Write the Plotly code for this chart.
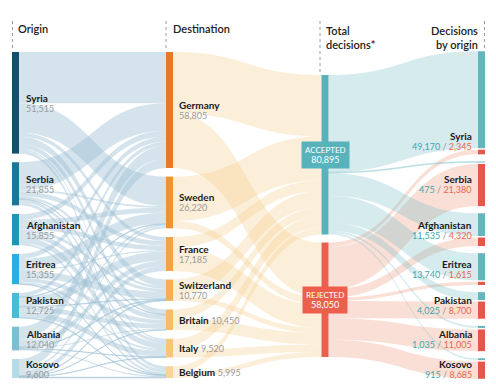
import plotly.graph_objects as go

# ---------------- data ----------------
origins = ["Syria", "Serbia", "Afghanistan", "Eritrea", "Pakistan", "Albania", "Kosovo"]
origin_totals = [51515, 21855, 15855, 15355, 12725, 12040, 9600]

destinations = ["Germany", "Sweden", "France", "Switzerland", "Britain", "Italy", "Belgium"]
dest_totals = [58805, 26220, 17185, 10770, 10450, 9520, 5995]

# estimated origin -> destination flows (rows: origins, cols: destinations)
flows = [
    [26000, 15000, 2000, 3500, 2500, 800, 1715],   # Syria
    [14000, 800, 2500, 1200, 300, 1500, 1555],     # Serbia
    [3000, 2500, 2200, 1500, 2500, 3000, 1155],    # Afghanistan
    [2500, 5500, 700, 3500, 2000, 1000, 155],      # Eritrea
    [2000, 300, 4500, 300, 2500, 2800, 325],       # Pakistan
    [6500, 1000, 2750, 400, 550, 200, 640],        # Albania
    [4805, 1120, 2535, 370, 100, 220, 450],        # Kosovo
]

# estimated destination -> decision flows
dest_accepted = [31000, 22500, 5500, 8200, 4500, 5700, 3495]
dest_rejected = [27805, 3720, 11685, 2570, 5950, 3820, 2500]

total_labels = ["ACCEPTED", "REJECTED"]
total_values = [80895, 58050]

# decisions by origin
origin_accepted = [49170, 475, 11535, 13740, 4025, 1035, 915]
origin_rejected = [2345, 21380, 4320, 1615, 8700, 11005, 8685]

columns_titles = ["Origin", "Destination", "Total<br>decisions*", "Decisions<br>by origin"]

# ---------------- layout geometry ----------------
W, H = 496, 386
MT, MB, ML, MR = 52, 8, 0, 0
PW, PH = W - ML - MR, H - MT - MB
PAD = 4
THICK = 7
total = sum(origin_totals)
ky = (PH - 13 * PAD) / total  # same scale plotly's sankey derives (14-node column)

n = len(origins)

def col_tops(values, gap):
    tops, y = [], 0.0
    for v in values:
        tops.append(y)
        y += v * ky + gap
    return tops

gap_o = (PH - total * ky) / (n - 1)
o_tops = col_tops(origin_totals, gap_o)
d_tops = col_tops(dest_totals, gap_o)
acc_top = 23
t_tops = [acc_top, acc_top + total_values[0] * ky + 8]

X_O, X_D, X_T, X_L = 15.5, 169.5, 325.0, 481.5

node_x, node_y, node_color = [], [], []
o_cols = ["#12506d", "#1c7699", "#2194b8", "#2cafe0", "#4cb9d6", "#7cc0d0", "#b5dbe7"]
d_cols = ["#e8782a", "#ee9331", "#f2a346", "#f4b057", "#f6bc68", "#f7c67c", "#f9d49a"]
for i in range(n):
    node_x.append(X_O / PW)
    node_y.append((o_tops[i] + origin_totals[i] * ky / 2) / PH)
    node_color.append(o_cols[i])
for j in range(n):
    node_x.append(X_D / PW)
    node_y.append((d_tops[j] + dest_totals[j] * ky / 2) / PH)
    node_color.append(d_cols[j])
for k in range(2):
    node_x.append(X_T / PW)
    node_y.append((t_tops[k] + total_values[k] * ky / 2) / PH)
    node_color.append(["#58b2bc", "#ec5f4c"][k])
for i in range(n):
    top_a = o_tops[i] - 0.75
    top_r = top_a + origin_accepted[i] * ky + 1.5
    node_x.append(X_L / PW)
    node_y.append((top_a + origin_accepted[i] * ky / 2) / PH)
    node_color.append("#66b5bd")
    node_x.append(X_L / PW)
    node_y.append((top_r + origin_rejected[i] * ky / 2) / PH)
    node_color.append("#e4584a")

src, tgt, val, lcol = [], [], [], []
for i in range(n):
    for j in range(n):
        src.append(i); tgt.append(n + j); val.append(flows[i][j])
        lcol.append("rgba(160,192,212,0.45)")
for j in range(n):
    src.append(n + j); tgt.append(2 * n); val.append(dest_accepted[j])
    lcol.append("rgba(245,195,120,0.27)")
    src.append(n + j); tgt.append(2 * n + 1); val.append(dest_rejected[j])
    lcol.append("rgba(245,195,120,0.27)")
for i in range(n):
    src.append(2 * n); tgt.append(2 * n + 2 + 2 * i); val.append(origin_accepted[i])
    lcol.append("rgba(120,190,200,0.30)")
    src.append(2 * n + 1); tgt.append(2 * n + 3 + 2 * i); val.append(origin_rejected[i])
    lcol.append("rgba(240,150,120,0.30)")

fig = go.Figure(go.Sankey(
    arrangement="fixed",
    node=dict(label=[""] * len(node_x), x=node_x, y=node_y, color=node_color,
              pad=PAD, thickness=THICK, line=dict(width=0)),
    link=dict(source=src, target=tgt, value=val, color=lcol, line=dict(width=0)),
    hoverinfo="none",
))

FONT = "Lato, 'Open Sans', sans-serif"

def px(x):
    return x / W

def py(y):
    return 1 - (y - MT) / PH

ann = []
def add(x, y, text, size=10, color="#1a1a1a", xanchor="left", weight="normal", **kw):
    ann.append(dict(x=px(x), y=py(y), xref="paper", yref="paper", text=text,
                    showarrow=False, xanchor=xanchor, yanchor="middle",
                    font=dict(family=FONT, size=size, color=color, weight=weight), **kw))

# origin labels
for i in range(n):
    c = MT + o_tops[i] + origin_totals[i] * ky / 2
    add(24, c - 5, "<b>%s</b>" % origins[i], 10)
    add(24, c + 5.5, f"{origin_totals[i]:,}", 9, "#9a9a9a")

# destination labels
inline = [False, False, False, False, True, True, True]
for j in range(n):
    c = MT + d_tops[j] + dest_totals[j] * ky / 2
    if inline[j]:
        add(177, c, "<b>%s</b> <span style='color:#9a9a9a;font-size:9px'>%s</span>"
            % (destinations[j], f"{dest_totals[j]:,}"), 10)
    else:
        add(177, c - 5, "<b>%s</b>" % destinations[j], 10)
        add(177, c + 5.5, f"{dest_totals[j]:,}", 9, "#9a9a9a")

# total decision boxes
for k in range(2):
    c = MT + t_tops[k] + total_values[k] * ky / 2
    add(X_T, c, "%s<br><span style='font-size:9px'>%s</span>" % (total_labels[k], f"{total_values[k]:,}"),
        8, "white", xanchor="center", bgcolor=["#58b2bc", "#ec5f4c"][k], borderpad=3)

# decisions by origin labels
label_shift = [38, 0, 0, 0, 0, 0, 0]
for i in range(n):
    c = MT + o_tops[i] + origin_totals[i] * ky / 2 + label_shift[i]
    add(474, c - 5, "<b>%s</b>" % origins[i], 10, xanchor="right")
    add(474, c + 5.5, "<span style='color:#3ea7b1'>%s</span> <span style='color:#999'>/</span> "
        "<span style='color:#e8674f'>%s</span>" % (f"{origin_accepted[i]:,}", f"{origin_rejected[i]:,}"),
        9, xanchor="right")

# column headings
add(16, 29, columns_titles[0], 11, "#222222", weight=600)
add(171, 29, columns_titles[1], 11, "#222222", weight=600)
ann.append(dict(x=px(324), y=py(22), xref="paper", yref="paper", text=columns_titles[2],
                showarrow=False, xanchor="left", yanchor="top", align="left",
                font=dict(family=FONT, size=11, color="#222222", weight=600)))
ann.append(dict(x=px(480), y=py(22), xref="paper", yref="paper", text=columns_titles[3],
                showarrow=False, xanchor="right", yanchor="top", align="right",
                font=dict(family=FONT, size=11, color="#222222", weight=600)))

shapes = []
for x, y1 in [(12.5, 51), (166, 51), (320, MT + acc_top), (484.5, 51)]:
    shapes.append(dict(type="line", xref="paper", yref="paper", x0=px(x), x1=px(x),
                       y0=py(21), y1=py(y1), line=dict(color="#9a9a9a", width=1, dash="dot")))

fig.update_layout(
    width=W, height=H, margin=dict(l=ML, r=MR, t=MT, b=MB),
    paper_bgcolor="white", plot_bgcolor="white",
    font=dict(family=FONT, size=10, color="#1a1a1a"),
    annotations=ann, shapes=shapes, showlegend=False,
)

fig.write_html("out.html", config={"displayModeBar": False},
               post_script="document.body.style.margin='0';")
